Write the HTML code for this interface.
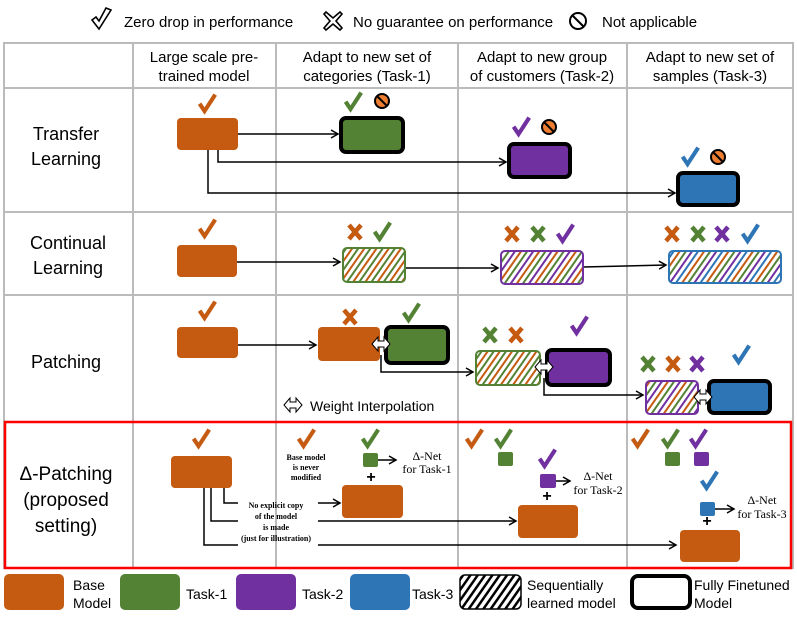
<!DOCTYPE html>
<html><head><meta charset="utf-8"><style>
html,body{margin:0;padding:0;background:#fff}
svg{display:block}
text{font-family:"Liberation Sans",sans-serif;fill:#000}
.h{font-size:15px;text-anchor:middle}
.r{font-size:18px;text-anchor:middle}
.s{font-family:"Liberation Serif",serif;font-size:8px;text-anchor:middle;font-weight:bold}
.d{font-family:"Liberation Serif",serif;font-size:12px;text-anchor:middle}
.l{font-size:14px}
</style></head><body>
<svg width="797" height="620" viewBox="0 0 797 620" xmlns="http://www.w3.org/2000/svg">
<defs>
<pattern id="p1" width="10" height="10" patternUnits="userSpaceOnUse" patternTransform="rotate(35)">
<rect width="10" height="10" fill="#fff"/><rect width="2" height="10" fill="#C55A11"/><rect x="5" width="2" height="10" fill="#548235"/></pattern>
<pattern id="p2" width="15" height="10" patternUnits="userSpaceOnUse" patternTransform="rotate(35)">
<rect width="15" height="10" fill="#fff"/><rect width="2" height="10" fill="#C55A11"/><rect x="5" width="2" height="10" fill="#548235"/><rect x="10" width="2" height="10" fill="#7030A0"/></pattern>
<pattern id="p3" width="20" height="10" patternUnits="userSpaceOnUse" patternTransform="rotate(35)">
<rect width="20" height="10" fill="#fff"/><rect width="2" height="10" fill="#C55A11"/><rect x="5" width="2" height="10" fill="#548235"/><rect x="10" width="2" height="10" fill="#7030A0"/><rect x="15" width="2" height="10" fill="#2E75B6"/></pattern>
<pattern id="pk" width="6" height="10" patternUnits="userSpaceOnUse" patternTransform="rotate(35)">
<rect width="6" height="10" fill="#fff"/><rect width="2.5" height="10" fill="#000"/></pattern>
<marker id="a" markerWidth="10" markerHeight="10" refX="8" refY="5" orient="auto" markerUnits="userSpaceOnUse"><path d="M1,1 L8,5 L1,9" fill="none" stroke="#000" stroke-width="1.5"/></marker>
<symbol id="ck" viewBox="-12 -14 24 28" overflow="visible"><path d="M-9,-1 L-3,8 L10,-12" fill="none" stroke-width="5" stroke-linejoin="miter"/></symbol>
<g id="fb"><circle r="7" fill="#ED7D31" stroke="#000" stroke-width="2"/><line x1="-4.5" y1="-4.5" x2="4.5" y2="4.5" stroke="#000" stroke-width="2"/></g>
</defs>

<!-- top legend -->
<path d="M92,20 L99,29 L111,10 L106,8 L99,21 L96,17 Z" fill="#fff" stroke="#000" stroke-width="1.6"/>
<text x="124" y="27" class="l" style="font-size:15px">Zero drop in performance</text>
<g transform="translate(333,21)" fill="#fff" stroke="#000" stroke-width="1.6"><path d="M-7,-9 L0,-3 L7,-9 L9,-7 L3,0 L9,7 L7,9 L0,3 L-7,9 L-9,7 L-3,0 L-9,-7 Z"/></g>
<text x="353" y="27" class="l" style="font-size:15px">No guarantee on performance</text>
<circle cx="578" cy="21" r="8" fill="#fff" stroke="#000" stroke-width="2"/><line x1="572" y1="15" x2="584" y2="27" stroke="#000" stroke-width="2"/>
<text x="602" y="27" class="l" style="font-size:15px">Not applicable</text>

<!-- grid -->
<g stroke="#bbb" stroke-width="2" fill="none">
<rect x="4" y="43" width="789" height="525"/>
<line x1="133" y1="43" x2="133" y2="568"/><line x1="276" y1="43" x2="276" y2="568"/>
<line x1="458" y1="43" x2="458" y2="568"/><line x1="627" y1="43" x2="627" y2="568"/>
<line x1="4" y1="88" x2="793" y2="88"/><line x1="4" y1="212" x2="793" y2="212"/>
<line x1="4" y1="295" x2="793" y2="295"/>
</g>
<rect x="5" y="422" width="786" height="146" fill="none" stroke="#f00" stroke-width="2.5"/>

<text class="h"><tspan x="204" y="62">Large scale pre-</tspan><tspan x="204" y="81">trained model</tspan></text>
<text class="h"><tspan x="367" y="62">Adapt to new set of</tspan><tspan x="367" y="81">categories (Task-1)</tspan></text>
<text class="h"><tspan x="542" y="62">Adapt to new group</tspan><tspan x="542" y="81">of customers (Task-2)</tspan></text>
<text class="h"><tspan x="710" y="62">Adapt to new set of</tspan><tspan x="710" y="81">samples (Task-3)</tspan></text>

<text class="r"><tspan x="66" y="140">Transfer</tspan><tspan x="66" y="165">Learning</tspan></text>
<text class="r"><tspan x="68" y="249">Continual</tspan><tspan x="68" y="274">Learning</tspan></text>
<text class="r"><tspan x="66" y="368">Patching</tspan></text>
<text class="r" style="font-size:19px"><tspan x="66" y="480">Δ-Patching</tspan><tspan x="66" y="506">(proposed</tspan><tspan x="66" y="532">setting)</tspan></text>

<!-- Row 1 -->
<g stroke="#000" stroke-width="1.5" fill="none" marker-end="url(#a)">
<line x1="238" y1="134" x2="338" y2="134"/>
<polyline points="218,150 218,162 506,162"/>
<polyline points="208,150 208,193 675,193"/>
</g>
<rect x="177" y="118" width="61" height="32" rx="4" fill="#C55A11"/>
<rect x="341" y="118" width="62" height="34" rx="5" fill="#548235" stroke="#000" stroke-width="4"/>
<rect x="509" y="144" width="61" height="33" rx="5" fill="#7030A0" stroke="#000" stroke-width="4"/>
<rect x="678" y="173" width="60" height="32" rx="5" fill="#2E75B6" stroke="#000" stroke-width="4"/>
<use href="#ck" x="197" y="93" width="20" height="23" stroke="#C55A11"/>
<use href="#ck" x="343" y="91" width="20" height="23" stroke="#548235"/>
<use x="382" y="101" href="#fb"/>
<use href="#ck" x="511" y="116" width="20" height="23" stroke="#7030A0"/>
<use x="549" y="127" href="#fb"/>
<use href="#ck" x="680" y="146" width="20" height="23" stroke="#2E75B6"/>
<use x="718" y="157" href="#fb"/>

<!-- Row 2 -->
<g stroke="#000" stroke-width="1.5" fill="none" marker-end="url(#a)">
<line x1="237" y1="262" x2="340" y2="262"/>
<line x1="405" y1="268" x2="498" y2="268"/>
<line x1="583" y1="267" x2="666" y2="265"/>
</g>
<rect x="177" y="245" width="60" height="32" rx="4" fill="#C55A11"/>
<rect x="343" y="248" width="62" height="34" rx="4" fill="url(#p1)" stroke="#548235" stroke-width="2"/>
<rect x="501" y="251" width="82" height="33" rx="4" fill="url(#p2)" stroke="#7030A0" stroke-width="2"/>
<rect x="669" y="251" width="112" height="32" rx="4" fill="url(#p3)" stroke="#2E75B6" stroke-width="2"/>
<use href="#ck" x="197" y="218" width="20" height="23" stroke="#C55A11"/>
<g stroke-width="4.5" stroke-linecap="butt">
<path d="M349,225 L361,239 M361,225 L349,239" stroke="#C55A11"/>
<path d="M506,227 L518,241 M518,227 L506,241" stroke="#C55A11"/>
<path d="M532,227 L544,241 M544,227 L532,241" stroke="#548235"/>
<path d="M666,227 L678,241 M678,227 L666,241" stroke="#C55A11"/>
<path d="M692,227 L704,241 M704,227 L692,241" stroke="#548235"/>
<path d="M716,227 L728,241 M728,227 L716,241" stroke="#7030A0"/>
<path d="M344,310 L356,324 M356,310 L344,324" stroke="#C55A11"/>
<path d="M484,328 L496,342 M496,328 L484,342" stroke="#548235"/>
<path d="M510,328 L522,342 M522,328 L510,342" stroke="#C55A11"/>
<path d="M642,357 L654,371 M654,357 L642,371" stroke="#548235"/>
<path d="M667,357 L679,371 M679,357 L667,371" stroke="#C55A11"/>
<path d="M691,357 L703,371 M703,357 L691,371" stroke="#7030A0"/>
</g>
<use href="#ck" x="372" y="221" width="20" height="23" stroke="#548235"/>
<use href="#ck" x="555" y="223" width="20" height="23" stroke="#7030A0"/>
<use href="#ck" x="740" y="223" width="20" height="23" stroke="#2E75B6"/>

<!-- Row 3 -->
<g stroke="#000" stroke-width="1.5" fill="none" marker-end="url(#a)">
<line x1="238" y1="345" x2="316" y2="345"/>
<polyline points="381,355 381,372 473,372"/>
<polyline points="544,378 544,395 643,395"/>
</g>
<rect x="177" y="327" width="61" height="31" rx="4" fill="#C55A11"/>
<rect x="318" y="327" width="62" height="34" rx="4" fill="#C55A11"/>
<rect x="386" y="327" width="62" height="36" rx="5" fill="#548235" stroke="#000" stroke-width="4"/>
<rect x="476" y="351" width="64" height="34" rx="4" fill="url(#p1)" stroke="#548235" stroke-width="2"/>
<rect x="547" y="350" width="63" height="35" rx="5" fill="#7030A0" stroke="#000" stroke-width="4"/>
<rect x="646" y="381" width="52" height="33" rx="4" fill="url(#p2)" stroke="#7030A0" stroke-width="2"/>
<rect x="709" y="381" width="61" height="32" rx="5" fill="#2E75B6" stroke="#000" stroke-width="4"/>
<use href="#ck" x="197" y="300" width="20" height="23" stroke="#C55A11"/>
<use href="#ck" x="401" y="302" width="20" height="23" stroke="#548235"/>
<use href="#ck" x="569" y="315" width="20" height="23" stroke="#7030A0"/>
<use href="#ck" x="731" y="344" width="20" height="23" stroke="#2E75B6"/>
<g fill="#fff" stroke="#000" stroke-width="1">
<path d="M372,344 l6,-7 v4 h6 v-4 l6,7 l-6,7 v-4 h-6 v4 z"/>
<path d="M535,367 l6,-7 v4 h6 v-4 l6,7 l-6,7 v-4 h-6 v4 z"/>
<path d="M694,397 l6,-7 v4 h6 v-4 l6,7 l-6,7 v-4 h-6 v4 z"/>
<path d="M284,405 l6,-7 v4 h6 v-4 l6,7 l-6,7 v-4 h-6 v4 z"/>
</g>
<text x="310" y="411" class="l">Weight Interpolation</text>

<!-- Row 4 -->
<g stroke="#000" stroke-width="1.5" fill="none">
<polyline points="224,488 224,503 238,503"/>
<polyline points="211,488 211,521 238,521"/>
<polyline points="204,488 204,545 238,545"/>
</g>
<g stroke="#000" stroke-width="1.5" fill="none" marker-end="url(#a)">
<line x1="318" y1="503" x2="340" y2="503"/>
<line x1="318" y1="521" x2="516" y2="521"/>
<line x1="318" y1="545" x2="676" y2="545"/>
<line x1="378" y1="460" x2="396" y2="460"/>
<line x1="556" y1="481" x2="570" y2="481"/>
<line x1="715" y1="509" x2="734" y2="509"/>
</g>
<text class="s"><tspan x="276" y="508">No explicit copy</tspan><tspan x="276" y="519">of the model</tspan><tspan x="276" y="530">is made</tspan><tspan x="276" y="541">(just for illustration)</tspan></text>
<text class="s"><tspan x="306" y="460">Base model</tspan><tspan x="306" y="470">is never</tspan><tspan x="306" y="480">modified</tspan></text>
<rect x="171" y="456" width="61" height="32" rx="4" fill="#C55A11"/>
<rect x="342" y="485" width="61" height="33" rx="4" fill="#C55A11"/>
<rect x="518" y="505" width="60" height="33" rx="4" fill="#C55A11"/>
<rect x="680" y="530" width="60" height="32" rx="4" fill="#C55A11"/>
<rect x="363" y="453" width="15" height="14" rx="2" fill="#548235"/>
<rect x="498" y="452" width="15" height="14" rx="2" fill="#548235"/>
<rect x="540" y="474" width="16" height="14" rx="2" fill="#7030A0"/>
<rect x="665" y="452" width="15" height="14" rx="2" fill="#548235"/>
<rect x="694" y="452" width="15" height="14" rx="2" fill="#7030A0"/>
<rect x="700" y="502" width="15" height="14" rx="2" fill="#2E75B6"/>
<use href="#ck" x="191" y="428" width="20" height="23" stroke="#C55A11"/>
<use href="#ck" x="296" y="428" width="20" height="23" stroke="#C55A11"/>
<use href="#ck" x="360" y="428" width="20" height="23" stroke="#548235"/>
<use href="#ck" x="464" y="428" width="20" height="23" stroke="#C55A11"/>
<use href="#ck" x="493" y="428" width="20" height="23" stroke="#548235"/>
<use href="#ck" x="537" y="448" width="20" height="23" stroke="#7030A0"/>
<use href="#ck" x="630" y="428" width="20" height="23" stroke="#C55A11"/>
<use href="#ck" x="660" y="428" width="20" height="23" stroke="#548235"/>
<use href="#ck" x="688" y="428" width="20" height="23" stroke="#7030A0"/>
<use href="#ck" x="699" y="470" width="20" height="23" stroke="#2E75B6"/>
<g font-size="16" font-weight="bold" text-anchor="middle"><text x="371" y="482">+</text><text x="547" y="501">+</text><text x="707" y="526">+</text></g>
<text class="d"><tspan x="427" y="460">Δ-Net</tspan><tspan x="427" y="473">for Task-1</tspan></text>
<text class="d"><tspan x="598" y="480">Δ-Net</tspan><tspan x="598" y="494">for Task-2</tspan></text>
<text class="d"><tspan x="762" y="504">Δ-Net</tspan><tspan x="762" y="518">for Task-3</tspan></text>

<!-- bottom legend -->
<rect x="4" y="574" width="60" height="36" rx="5" fill="#C55A11"/>
<text class="l"><tspan x="73" y="590">Base</tspan><tspan x="73" y="608">Model</tspan></text>
<rect x="120" y="574" width="60" height="36" rx="5" fill="#548235"/>
<text x="186" y="599" class="l">Task-1</text>
<rect x="236" y="574" width="60" height="36" rx="5" fill="#7030A0"/>
<text x="302" y="599" class="l">Task-2</text>
<rect x="350" y="574" width="60" height="36" rx="5" fill="#2E75B6"/>
<text x="412" y="599" class="l">Task-3</text>
<rect x="460" y="575" width="61" height="34" rx="5" fill="url(#pk)" stroke="#000" stroke-width="1.5"/>
<text class="l"><tspan x="527" y="590">Sequentially</tspan><tspan x="527" y="608">learned model</tspan></text>
<rect x="632" y="576" width="58" height="32" rx="6" fill="#fff" stroke="#000" stroke-width="4"/>
<text class="l"><tspan x="694" y="590">Fully Finetuned</tspan><tspan x="694" y="608">Model</tspan></text>
</svg>
</body></html>
